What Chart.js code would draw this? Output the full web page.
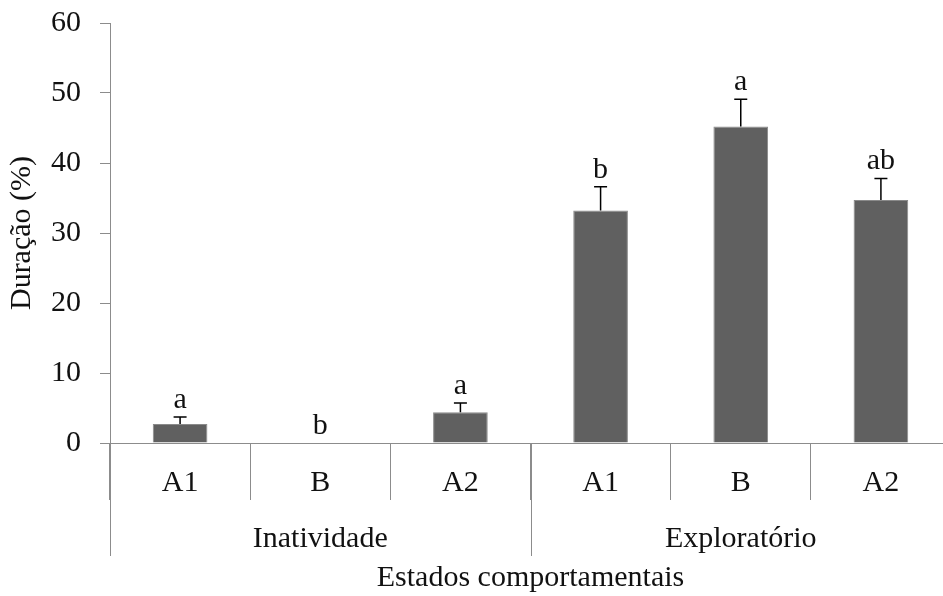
<!DOCTYPE html>
<html>
<head>
<meta charset="utf-8">
<script src="https://cdn.jsdelivr.net/npm/chart.js@4.4.1/dist/chart.umd.min.js"></script>
<style>
  html, body { margin: 0; padding: 0; background: #fff; overflow: hidden; }
</style>
</head>
<body>
<canvas id="chart" width="960" height="596"></canvas>
<script>
// data
const categories = ['A1', 'B', 'A2', 'A1', 'B', 'A2'];
const groups = ['Inatividade', 'Exploratório'];
const groupSize = 3;
const duration = [2.7, 0, 4.4, 33.2, 45.2, 34.7];
const errors = [1.0, 0, 1.3, 3.4, 3.9, 3.1];
const letters = ['a', 'b', 'a', 'b', 'a', 'ab'];
const yTicks = [0, 10, 20, 30, 40, 50, 60];

const serif = '"Liberation Serif", "Times New Roman", serif';
const fontSize = 30;
const axisGray = '#8c8c8c';
const textColor = '#111';

// error bars, significance letters and the group level of the x axis
const annotations = {
  id: 'annotations',
  afterDatasetsDraw(chart) {
    const { ctx, scales: { x, y } } = chart;
    ctx.save();
    duration.forEach((v, i) => {
      const cx = x.getPixelForValue(i);
      const topY = y.getPixelForValue(v + errors[i]);
      if (errors[i] > 0) {
        ctx.strokeStyle = '#000';
        ctx.lineWidth = 1.5;
        ctx.beginPath();
        ctx.moveTo(cx, y.getPixelForValue(v));
        ctx.lineTo(cx, topY);
        ctx.moveTo(cx - 6.5, topY);
        ctx.lineTo(cx + 6.5, topY);
        ctx.stroke();
      }
      ctx.fillStyle = textColor;
      ctx.font = fontSize + 'px ' + serif;
      ctx.textAlign = 'center';
      ctx.textBaseline = 'alphabetic';
      ctx.fillText(letters[i], cx, topY - 9);
    });

    // long separators between groups + group names
    ctx.strokeStyle = axisGray;
    ctx.lineWidth = 1;
    for (let g = 0; g <= groups.length; g++) {
      const px = Math.round(x.getPixelForValue(g * groupSize - 0.5)) + 0.5;
      ctx.beginPath();
      ctx.moveTo(px, x.top);
      ctx.lineTo(px, x.top + 113);
      ctx.stroke();
    }
    ctx.fillStyle = textColor;
    ctx.font = fontSize + 'px ' + serif;
    ctx.textAlign = 'center';
    ctx.textBaseline = 'middle';
    groups.forEach((name, g) => {
      const mid = x.getPixelForValue(g * groupSize + (groupSize - 1) / 2);
      ctx.fillText(name, mid, x.top + 96);
    });
    ctx.restore();
  }
};

new Chart(document.getElementById('chart'), {
  type: 'bar',
  data: {
    labels: categories,
    datasets: [{
      data: duration,
      backgroundColor: '#606060',
      borderColor: '#8a8a8a',
      borderWidth: 1,
      categoryPercentage: 1,
      barPercentage: 0.39
    }]
  },
  options: {
    responsive: false,
    animation: false,
    layout: { padding: { top: 23, right: 9, left: 0, bottom: 0 } },
    plugins: {
      legend: { display: false },
      tooltip: { enabled: false }
    },
    scales: {
      x: {
        position: 'bottom',
        afterFit: s => { s.height = 153; s.paddingLeft = 0; s.paddingRight = 0; },
        grid: {
          offset: true,
          drawOnChartArea: false,
          tickLength: 57,
          color: axisGray,
          lineWidth: 1
        },
        border: { color: axisGray, width: 1 },
        ticks: {
          padding: -35,
          color: textColor,
          font: { family: serif, size: fontSize }
        },
        title: {
          display: true,
          text: 'Estados comportamentais',
          color: textColor,
          font: { family: serif, size: fontSize },
          padding: { top: 0, bottom: 0 }
        }
      },
      y: {
        min: 0,
        max: 60,
        afterFit: s => { s.width = 110; s.paddingTop = 0; s.paddingBottom = 0; },
        afterBuildTicks: s => { s.ticks = yTicks.map(v => ({ value: v })); },
        grid: {
          drawOnChartArea: false,
          tickLength: 10,
          color: axisGray,
          lineWidth: 1
        },
        border: { color: axisGray, width: 1 },
        ticks: {
          padding: 19,
          color: textColor,
          font: { family: serif, size: fontSize }
        },
        title: {
          display: true,
          text: 'Duração (%)',
          color: textColor,
          font: { family: serif, size: fontSize },
          padding: { top: 4, bottom: 0 }
        }
      }
    }
  },
  plugins: [annotations]
});
</script>
</body>
</html>
